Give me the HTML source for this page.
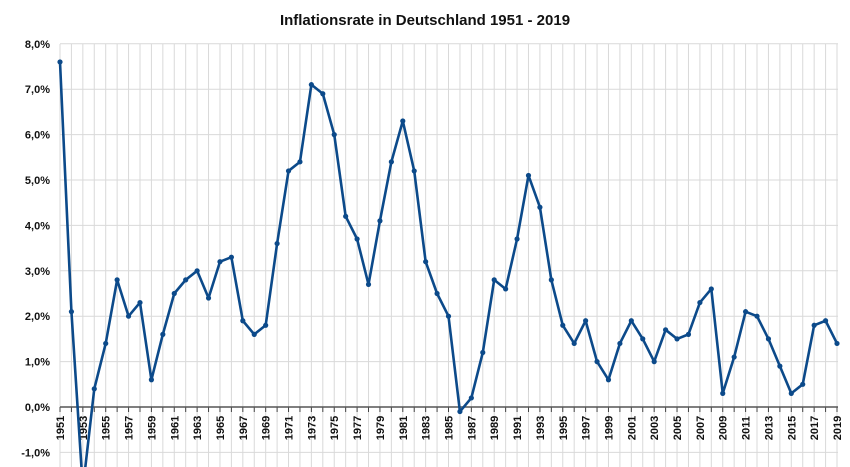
<!DOCTYPE html>
<html><head><meta charset="utf-8"><style>
body{margin:0;background:#fff;}
svg{display:block;font-family:"Liberation Sans",sans-serif;}
</style></head><body>
<svg id="c" width="850" height="467">
<defs><clipPath id="cp"><rect x="0" y="30" width="850" height="437"/></clipPath></defs>
<text x="425" y="25" text-anchor="middle" font-size="15" font-weight="bold" fill="#111">Inflationsrate in Deutschland 1951 - 2019</text>
<g id="grid"></g><g id="yt"></g><g id="xt"></g><g id="ser" clip-path="url(#cp)"></g>
</svg>
<script>
const years=[];for(let y=1951;y<=2019;y++)years.push(y);
const rates=[7.6,2.1,-1.8,0.4,1.4,2.8,2.0,2.3,0.6,1.6,2.5,2.8,3.0,2.4,3.2,3.3,1.9,1.6,1.8,3.6,5.2,5.4,7.1,6.9,6.0,4.2,3.7,2.7,4.1,5.4,6.3,5.2,3.2,2.5,2.0,-0.1,0.2,1.2,2.8,2.6,3.7,5.1,4.4,2.8,1.8,1.4,1.9,1.0,0.6,1.4,1.9,1.5,1.0,1.7,1.5,1.6,2.3,2.6,0.3,1.1,2.1,2.0,1.5,0.9,0.3,0.5,1.8,1.9,1.4];
const yTicks=[-1,0,1,2,3,4,5,6,7,8];
const NS="http://www.w3.org/2000/svg";
const x=i=>60+i*(777/68), y=v=>407-v*45.4;
function mk(t,a,p){const e=document.createElementNS(NS,t);for(const k in a)e.setAttribute(k,a[k]);p.appendChild(e);return e;}
const g=document.getElementById('grid'),yt=document.getElementById('yt'),xt=document.getElementById('xt'),s=document.getElementById('ser');
years.forEach((yr,i)=>{const l=mk('line',{x1:x(i),x2:x(i),y1:44,y2:467,stroke:'#d9d9d9','stroke-width':1},g);


const t=mk('line',{x1:x(i),x2:x(i),y1:407,y2:412,stroke:'#444','stroke-width':1},xt);


if(i%2===0){const tx=mk('text',{x:0,y:0,transform:`translate(${x(i)+4},428) rotate(-90)`,'text-anchor':'middle','font-size':11,'font-weight':'bold',fill:'#111'},xt);tx.textContent=yr;

}
});
yTicks.forEach(v=>{if(v!==0){const l=mk('line',{x1:60,x2:838,y1:y(v),y2:y(v),stroke:'#d9d9d9','stroke-width':1},g);

}
const t=mk('text',{x:50,y:y(v)+4,'text-anchor':'end','font-size':11,'font-weight':'bold',fill:'#111'},yt);t.textContent=v.toFixed(1).replace('.',',')+'%';

});
const ax=mk('line',{x1:60,x2:838,y1:y(0),y2:y(0),stroke:'#555','stroke-width':1.5},xt);


const p=mk('polyline',{points:rates.map((v,i)=>x(i)+','+y(v)).join(' '),fill:'none',stroke:'#0c4a8a','stroke-width':2.6,'stroke-linejoin':'round'},s);


rates.forEach((v,i)=>{const c=mk('circle',{cx:x(i),cy:y(v),r:2.6,fill:'#0c4a8a'},s);

});
</script>
</body></html>
